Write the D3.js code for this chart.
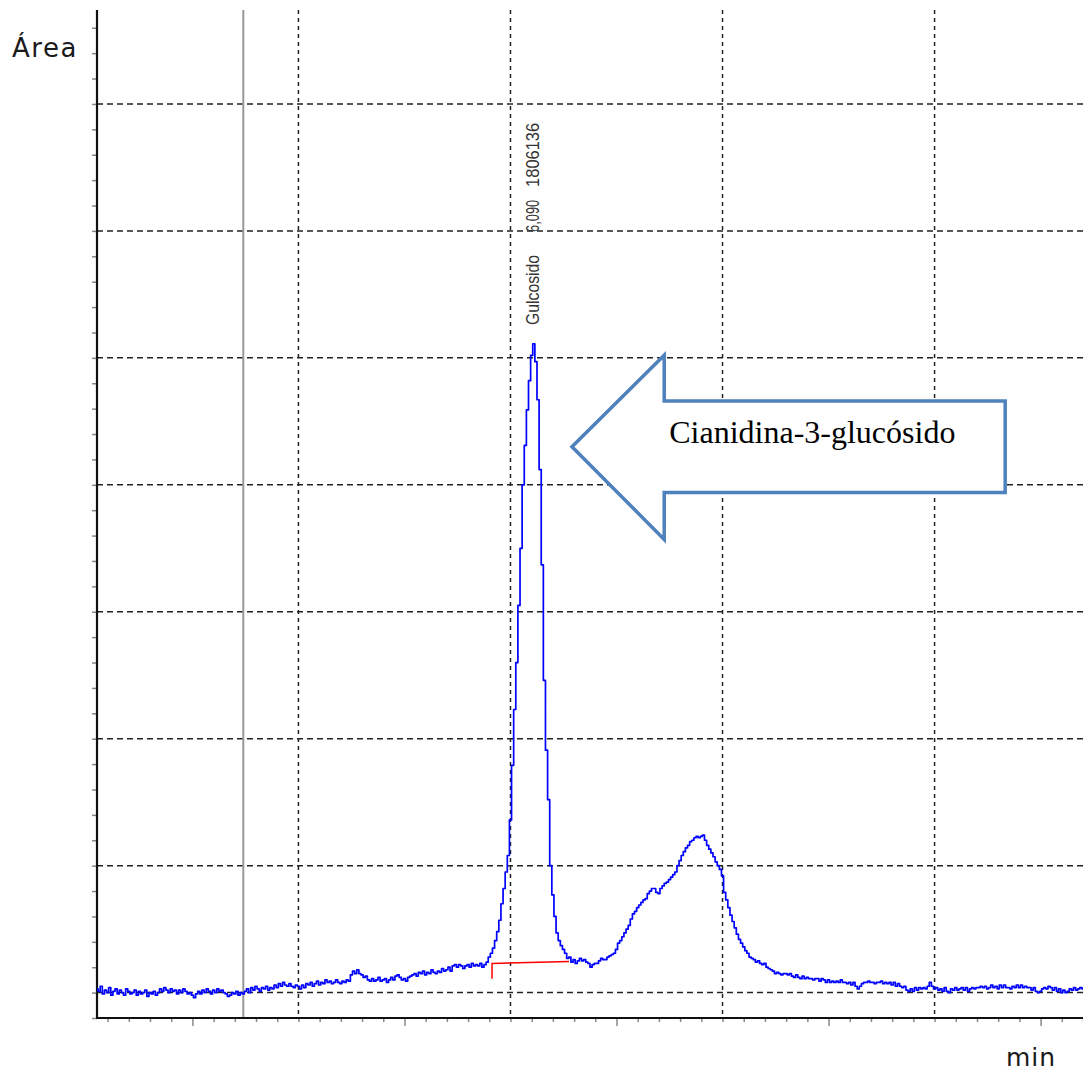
<!DOCTYPE html>
<html>
<head>
<meta charset="utf-8">
<script src="https://cdn.jsdelivr.net/npm/d3@7"></script>
<style>
  body { margin: 0; background: #ffffff; }
</style>
</head>
<body>
<div id="canvas"></div>
<script>
"use strict"

/* Chromatogram: one detector trace, sampled every 0.01 min */
let timeStart = 4.05;
let sampleStep = 0.01;
let signal = [
  0.3, 0.1, 0.5, -0.1, 0.2, 0.0, 0.4, -0.2, 0.1, 0.3,
  -0.1, 0.2, 0.0, -0.2, 0.3, 0.1, -0.1, 0.0, 0.2, -0.2,
  0.1, -0.1, 0.0, 0.2, -0.3, 0.0, -0.1, 0.1, -0.2, 0.0,
  0.3, 0.1, 0.4, 0.2, 0.0, 0.3, 0.1, 0.2, -0.1, 0.2,
  0.0, 0.3, 0.1, -0.1, 0.0, -0.2, -0.4, -0.1, 0.1, -0.1,
  0.2, 0.0, 0.3, 0.1, -0.1, 0.2, 0.0, 0.3, 0.1, 0.2,
  0.0, -0.1, -0.3, -0.2, 0.0, -0.1, 0.1, -0.2, 0.0, -0.1,
  0.1, 0.3, 0.0, 0.4, 0.2, 0.5, 0.3, 0.1, 0.4, 0.3,
  0.5, 0.2, 0.4, 0.3, 0.6, 0.4, 0.7, 0.5, 0.8, 0.6,
  0.5, 0.7, 0.5, 0.4, 0.6, 0.5, 0.3, 0.6, 0.4, 0.7,
  0.6, 0.8, 0.5, 0.7, 0.9, 0.6, 0.8, 0.7, 1.0, 0.8,
  0.9, 0.7, 0.8, 1.0, 0.8, 0.7, 0.9, 0.8, 1.0, 0.9,
  1.4, 1.7, 1.5, 1.8, 1.5, 1.4, 1.2, 1.3, 1.0, 0.9,
  1.1, 0.9, 1.0, 1.2, 0.9, 1.0, 1.1, 0.8, 1.0, 1.2,
  1.0, 1.3, 1.4, 1.2, 1.0, 1.1, 0.9, 1.2, 1.3, 1.4,
  1.5, 1.3, 1.6, 1.5, 1.7, 1.4, 1.6, 1.5, 1.8, 1.6,
  1.5, 1.7, 1.6, 1.9, 1.7, 1.8, 2.0, 1.7, 2.1, 2.2,
  2.0, 2.2, 2.1, 1.9, 2.1, 2.2, 2.0, 2.3, 2.1, 2.2,
  2.1, 2.3, 2.0, 2.2, 2.4, 2.8, 3.1, 3.5, 4.1, 4.8,
  5.7, 7.0, 8.2, 9.5, 10.8, 13.6, 17.9, 22.3, 26.0, 30.5,
  35.0, 40.0, 43.1, 45.9, 48.2, 50.2, 51.1, 49.7, 46.7, 41.2,
  33.7, 24.6, 19.1, 15.2, 10.0, 7.7, 6.0, 4.7, 4.1, 3.7,
  3.4, 3.1, 2.7, 2.8, 2.4, 2.6, 2.3, 2.5, 2.7, 2.5,
  2.6, 2.4, 2.3, 2.0, 2.2, 2.3, 2.3, 2.5, 2.7, 2.6,
  2.6, 2.8, 2.9, 3.0, 3.1, 3.4, 3.9, 4.1, 4.4, 4.7,
  5.0, 5.3, 5.8, 6.2, 6.4, 6.7, 6.9, 7.1, 7.3, 7.4,
  7.8, 8.0, 8.2, 8.2, 7.9, 7.8, 8.2, 8.4, 8.6, 8.7,
  8.9, 9.1, 9.3, 9.5, 10.0, 10.4, 10.8, 11.1, 11.4, 11.6,
  11.9, 12.0, 12.2, 12.3, 12.2, 12.3, 12.4, 12.0, 11.6, 11.3,
  11.0, 10.7, 10.3, 10.0, 9.7, 9.2, 7.9, 7.3, 6.7, 6.1,
  5.6, 5.1, 4.6, 4.2, 3.9, 3.6, 3.3, 3.1, 2.8, 2.7,
  2.6, 2.4, 2.5, 2.3, 2.2, 2.3, 2.0, 1.9, 1.8, 1.7,
  1.5, 1.6, 1.5, 1.4, 1.5, 1.5, 1.4, 1.5, 1.3, 1.2,
  1.4, 1.2, 1.1, 1.3, 1.1, 1.2, 1.1, 1.1, 1.0, 1.1,
  1.1, 0.9, 1.1, 1.0, 0.8, 1.0, 0.8, 0.9, 0.8, 0.9,
  0.8, 1.0, 0.8, 0.8, 0.7, 0.8, 0.6, 0.8, 0.5, 0.3,
  0.5, 0.7, 0.8, 0.8, 0.9, 0.8, 0.8, 0.7, 0.8, 0.8,
  0.9, 0.7, 0.8, 0.7, 0.8, 0.6, 0.8, 0.5, 0.7, 0.5,
  0.4, 0.5, 0.2, 0.1, 0.3, 0.1, 0.4, 0.2, 0.4, 0.3,
  0.4, 0.3, 0.5, 0.8, 0.5, 0.3, 0.4, 0.2, 0.3, 0.1,
  0.4, 0.1, 0.0, 0.3, 0.2, 0.4, 0.2, 0.3, 0.4, 0.2,
  0.4, 0.1, 0.3, 0.4, 0.3, 0.4, 0.4, 0.5, 0.4, 0.5,
  0.3, 0.4, 0.6, 0.4, 0.5, 0.3, 0.6, 0.4, 0.6, 0.4,
  0.4, 0.3, 0.5, 0.4, 0.6, 0.4, 0.6, 0.4, 0.5, 0.4,
  0.4, 0.2, 0.4, 0.1, 0.0, 0.1, 0.3, 0.4, 0.3, 0.5,
  0.4, 0.2, 0.4, 0.1, 0.3, 0.0, 0.2, 0.0, 0.1, 0.3,
  0.2, 0.4, 0.2, 0.3, 0.4, 0.3
];

// grid positions (minutes / signal units)
let gridTimes = [5, 6, 7, 8];
let gridLevels = [0, 10, 20, 30, 40, 50, 60, 70];
let markerTime = 4.74;   // grey solid line

// integrated peak
let peakTime = 6.09;
let peakHeight = 51.1;
let peakLabels = ["Gulcosido", "6,090", "1806136"];
let baselineStart = [5.913, 2.3];
let baselineEnd = [6.276, 2.45];
let baselineDrop = 1.1;

// callout arrow (in data units)
let arrowTip = [6.29, 43.0];
let arrowNeck = 6.725;
let arrowTail = 8.333;
let shaftTop = 46.6;
let shaftBottom = 39.4;
let headTop = 50.2;
let headBottom = 35.7;
let arrowText = "Cianidina-3-glucósido";

/* Drawing config */
let svgWidth = 1083;
let svgHeight = 1072;
let margin = { top: 10, right: 0, bottom: 54, left: 97 };

let svg = d3.select("#canvas")
    .append("svg")
    .attr("width", svgWidth)
    .attr("height", svgHeight);

svg.append("rect")
    .attr("width", svgWidth)
    .attr("height", svgHeight)
    .attr("fill", "#ffffff");

let xScale = d3.scaleLinear()
    .domain([4.05, 8.70])
    .range([margin.left, svgWidth - margin.right]);

let yScale = d3.scaleLinear()
    .domain([-2, 77.4])
    .range([svgHeight - margin.bottom, margin.top]);

let plotTop = margin.top;
let plotBottom = svgHeight - margin.bottom;
let plotLeft = margin.left;
let plotRight = svgWidth - margin.right;

/* Dashed grid */
svg.append("g")
    .selectAll("line")
    .data(gridLevels)
    .join("line")
    .attr("x1", plotLeft)
    .attr("x2", plotRight)
    .attr("y1", d => yScale(d))
    .attr("y2", d => yScale(d))
    .attr("stroke", "#222")
    .attr("stroke-width", 1.5)
    .attr("stroke-dasharray", "6,4");

svg.append("g")
    .selectAll("line")
    .data(gridTimes)
    .join("line")
    .attr("x1", d => xScale(d))
    .attr("x2", d => xScale(d))
    .attr("y1", plotTop)
    .attr("y2", plotBottom)
    .attr("stroke", "#222")
    .attr("stroke-width", 1.5)
    .attr("stroke-dasharray", "4,4");

// grey marker line
svg.append("line")
    .attr("x1", xScale(markerTime))
    .attr("x2", xScale(markerTime))
    .attr("y1", plotTop)
    .attr("y2", plotBottom)
    .attr("stroke", "#999")
    .attr("stroke-width", 2);

/* Axes */
let xTicks = d3.range(41, 88).map(d => d / 10);
let xAxis = d3.axisBottom(xScale)
    .tickValues(xTicks)
    .tickSize(4)
    .tickFormat("");
let xAxisG = svg.append("g")
    .attr("transform", "translate(0," + plotBottom + ")")
    .call(xAxis);
xAxisG.select(".domain").remove();
xAxisG.selectAll(".tick line")
    .attr("stroke", "#888")
    .attr("stroke-width", 1.5)
    .attr("y2", d => (Math.round(d * 10) % 10 === 5) ? 8 : 4);

let yTicks = d3.range(-1, 39).map(d => d * 2);
let yAxis = d3.axisLeft(yScale)
    .tickValues(yTicks)
    .tickSize(5)
    .tickFormat("");
let yAxisG = svg.append("g")
    .attr("transform", "translate(" + plotLeft + ",0)")
    .call(yAxis);
yAxisG.select(".domain").remove();
yAxisG.selectAll(".tick line")
    .attr("stroke", "#888")
    .attr("stroke-width", 1.5);

// axis lines
svg.append("line")
    .attr("x1", plotLeft).attr("x2", plotLeft)
    .attr("y1", plotTop).attr("y2", plotBottom + 1)
    .attr("stroke", "#111")
    .attr("stroke-width", 2.2);
svg.append("line")
    .attr("x1", plotLeft).attr("x2", plotRight)
    .attr("y1", plotBottom).attr("y2", plotBottom)
    .attr("stroke", "#111")
    .attr("stroke-width", 2.2);

/* Trace - stepped, like the detector's raw samples */
let line = d3.line()
    .x((d, i) => xScale(timeStart + i * sampleStep))
    .y(d => yScale(d))
    .curve(d3.curveStep);

svg.append("path")
    .datum(signal)
    .attr("d", line)
    .attr("fill", "none")
    .attr("stroke", "#0000ff")
    .attr("stroke-width", 1.7)
    .attr("stroke-linejoin", "round");

/* Integration baseline (red) */
svg.append("path")
    .attr("d", "M" + xScale(baselineStart[0]) + "," + yScale(baselineDrop) +
               "L" + xScale(baselineStart[0]) + "," + yScale(baselineStart[1]) +
               "L" + xScale(baselineEnd[0]) + "," + yScale(baselineEnd[1]))
    .attr("fill", "none")
    .attr("stroke", "#ff0000")
    .attr("stroke-width", 1.5);

/* Peak label, rotated */
let labelX = xScale(peakTime) + 9.5;
let apexY = yScale(peakHeight);
let labelStarts = [19, 112, 157];   // px above the apex where each word starts
let labelLengths = [70, 32, 64];
for (let i = 0; i < peakLabels.length; i++) {
    let y0 = apexY - labelStarts[i];
    svg.append("text")
        .attr("x", labelX)
        .attr("y", y0)
        .attr("transform", "rotate(-90," + labelX + "," + y0 + ")")
        .attr("textLength", labelLengths[i])
        .attr("lengthAdjust", "spacingAndGlyphs")
        .style("font-family", "'Liberation Sans', Arial, sans-serif")
        .style("font-size", "18px")
        .attr("fill", "#333")
        .text(peakLabels[i]);
}

/* Callout arrow */
let arrowPoints = [
    [arrowTip[0], arrowTip[1]],
    [arrowNeck, headTop],
    [arrowNeck, shaftTop],
    [arrowTail, shaftTop],
    [arrowTail, shaftBottom],
    [arrowNeck, shaftBottom],
    [arrowNeck, headBottom]
];
svg.append("polygon")
    .attr("points", arrowPoints.map(p => xScale(p[0]) + "," + yScale(p[1])).join(" "))
    .attr("fill", "#ffffff")
    .attr("stroke", "#4f81bd")
    .attr("stroke-width", 3.5)
    .attr("stroke-linejoin", "miter");

svg.append("text")
    .attr("x", xScale(arrowNeck) + 5)
    .attr("y", (yScale(shaftTop) + yScale(shaftBottom)) / 2 - 4)
    .style("font-family", "'Liberation Serif', 'Times New Roman', serif")
    .style("font-size", "32px")
    .attr("fill", "#000")
    .text(arrowText);

/* Axis titles */
svg.append("text")
    .attr("x", 12)
    .attr("y", 57)
    .style("font-family", "'DejaVu Sans', Verdana, sans-serif")
    .style("font-size", "26px")
    .style("letter-spacing", "1.5px")
    .attr("fill", "#1a1a1a")
    .text("Área");

svg.append("text")
    .attr("x", 1006)
    .attr("y", 1066)
    .style("font-family", "'DejaVu Sans', Verdana, sans-serif")
    .style("font-size", "25px")
    .style("letter-spacing", "1px")
    .attr("fill", "#1a1a1a")
    .text("min");
</script>
</body>
</html>
